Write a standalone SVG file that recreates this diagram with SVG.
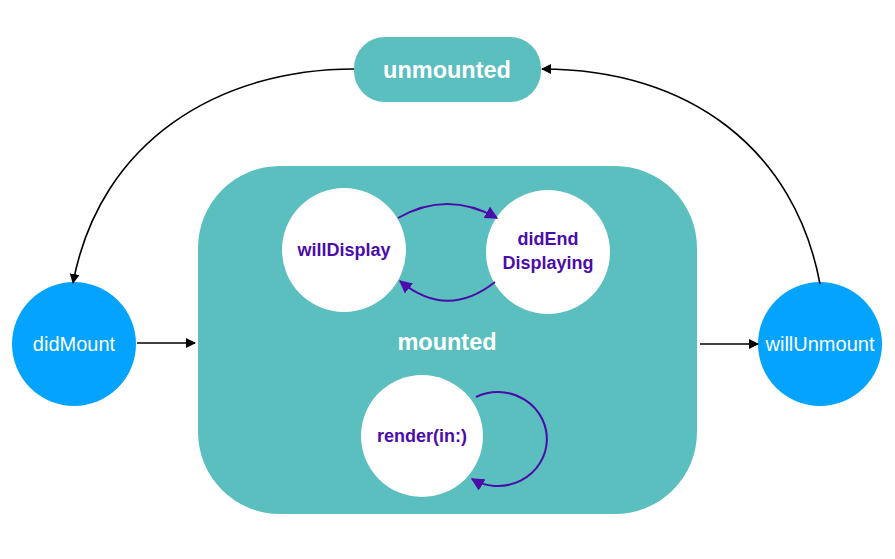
<svg xmlns="http://www.w3.org/2000/svg" width="895" height="559" viewBox="0 0 895 559">
<defs>
<style>
.teal{fill:#5abfbe}
.blue{fill:#03a3fe}
.white{fill:#ffffff}
.lbl{font-family:"Liberation Sans",Arial,sans-serif;text-anchor:middle;dominant-baseline:central}
.big{font-size:23.5px;font-weight:bold;fill:#ffffff}
.inner{font-size:18px;font-weight:bold;fill:#4c0cab}
.outer{font-size:20px;fill:#ffffff}
.blk{fill:none;stroke:#000;stroke-width:1.6}
.pur{fill:none;stroke:#4c0cab;stroke-width:2}
</style>
<marker id="ap" viewBox="0 0 10 10" refX="9" refY="5" markerWidth="13" markerHeight="13" orient="auto" markerUnits="userSpaceOnUse">
<path d="M0,0 L10,5 L0,10 z" fill="#4c0cab"/>
</marker>
<marker id="ab2" viewBox="0 0 10 10" refX="9" refY="5" markerWidth="10" markerHeight="10" orient="auto" markerUnits="userSpaceOnUse">
<path d="M0,0 L10,5 L0,10 z" fill="#000"/>
</marker>
</defs>
<rect width="895" height="559" fill="#ffffff"/>
<g id="mounted">
<rect class="teal" x="198" y="166" width="499" height="348" rx="82" ry="82"/>
<text class="lbl big" x="447" y="342">mounted</text>
</g>
<g id="unmounted">
<rect class="teal" x="354" y="37" width="187" height="65" rx="31" ry="31"/>
<text class="lbl big" x="447" y="70">unmounted</text>
</g>
<g id="didMount">
<circle class="blue" cx="74" cy="344" r="62"/>
<text class="lbl outer" x="74" y="344">didMount</text>
</g>
<g id="willUnmount">
<circle class="blue" cx="820" cy="344" r="62"/>
<text class="lbl outer" x="820" y="344">willUnmount</text>
</g>
<g id="willDisplay">
<circle class="white" cx="344" cy="250" r="62"/>
<text class="lbl inner" x="344" y="250">willDisplay</text>
</g>
<g id="didEndDisplaying">
<circle class="white" cx="548" cy="252" r="62"/>
<text class="lbl inner" x="548" y="239">didEnd</text>
<text class="lbl inner" x="548" y="263">Displaying</text>
</g>
<g id="render">
<circle class="white" cx="422" cy="436" r="61"/>
<text class="lbl inner" x="422" y="436">render(in:)</text>
</g>
<g id="connectors">
<path class="blk" d="M354,69 C220,69 100,140 73,283" marker-end="url(#ab2)"/>
<path class="blk" d="M820,284 C795,150 690,69 542,69" marker-end="url(#ab2)"/>
<path class="blk" d="M137,343 L195,343" marker-end="url(#ab2)"/>
<path class="blk" d="M700,344 L758,344" marker-end="url(#ab2)"/>
<path class="pur" d="M398,218 Q447,190 497,218" marker-end="url(#ap)"/>
<path class="pur" d="M495,282 Q447,320 400,281" marker-end="url(#ap)"/>
<path class="pur" d="M476,397 A49,47 0 1 1 472,479" marker-end="url(#ap)"/>
</g>
</svg>
